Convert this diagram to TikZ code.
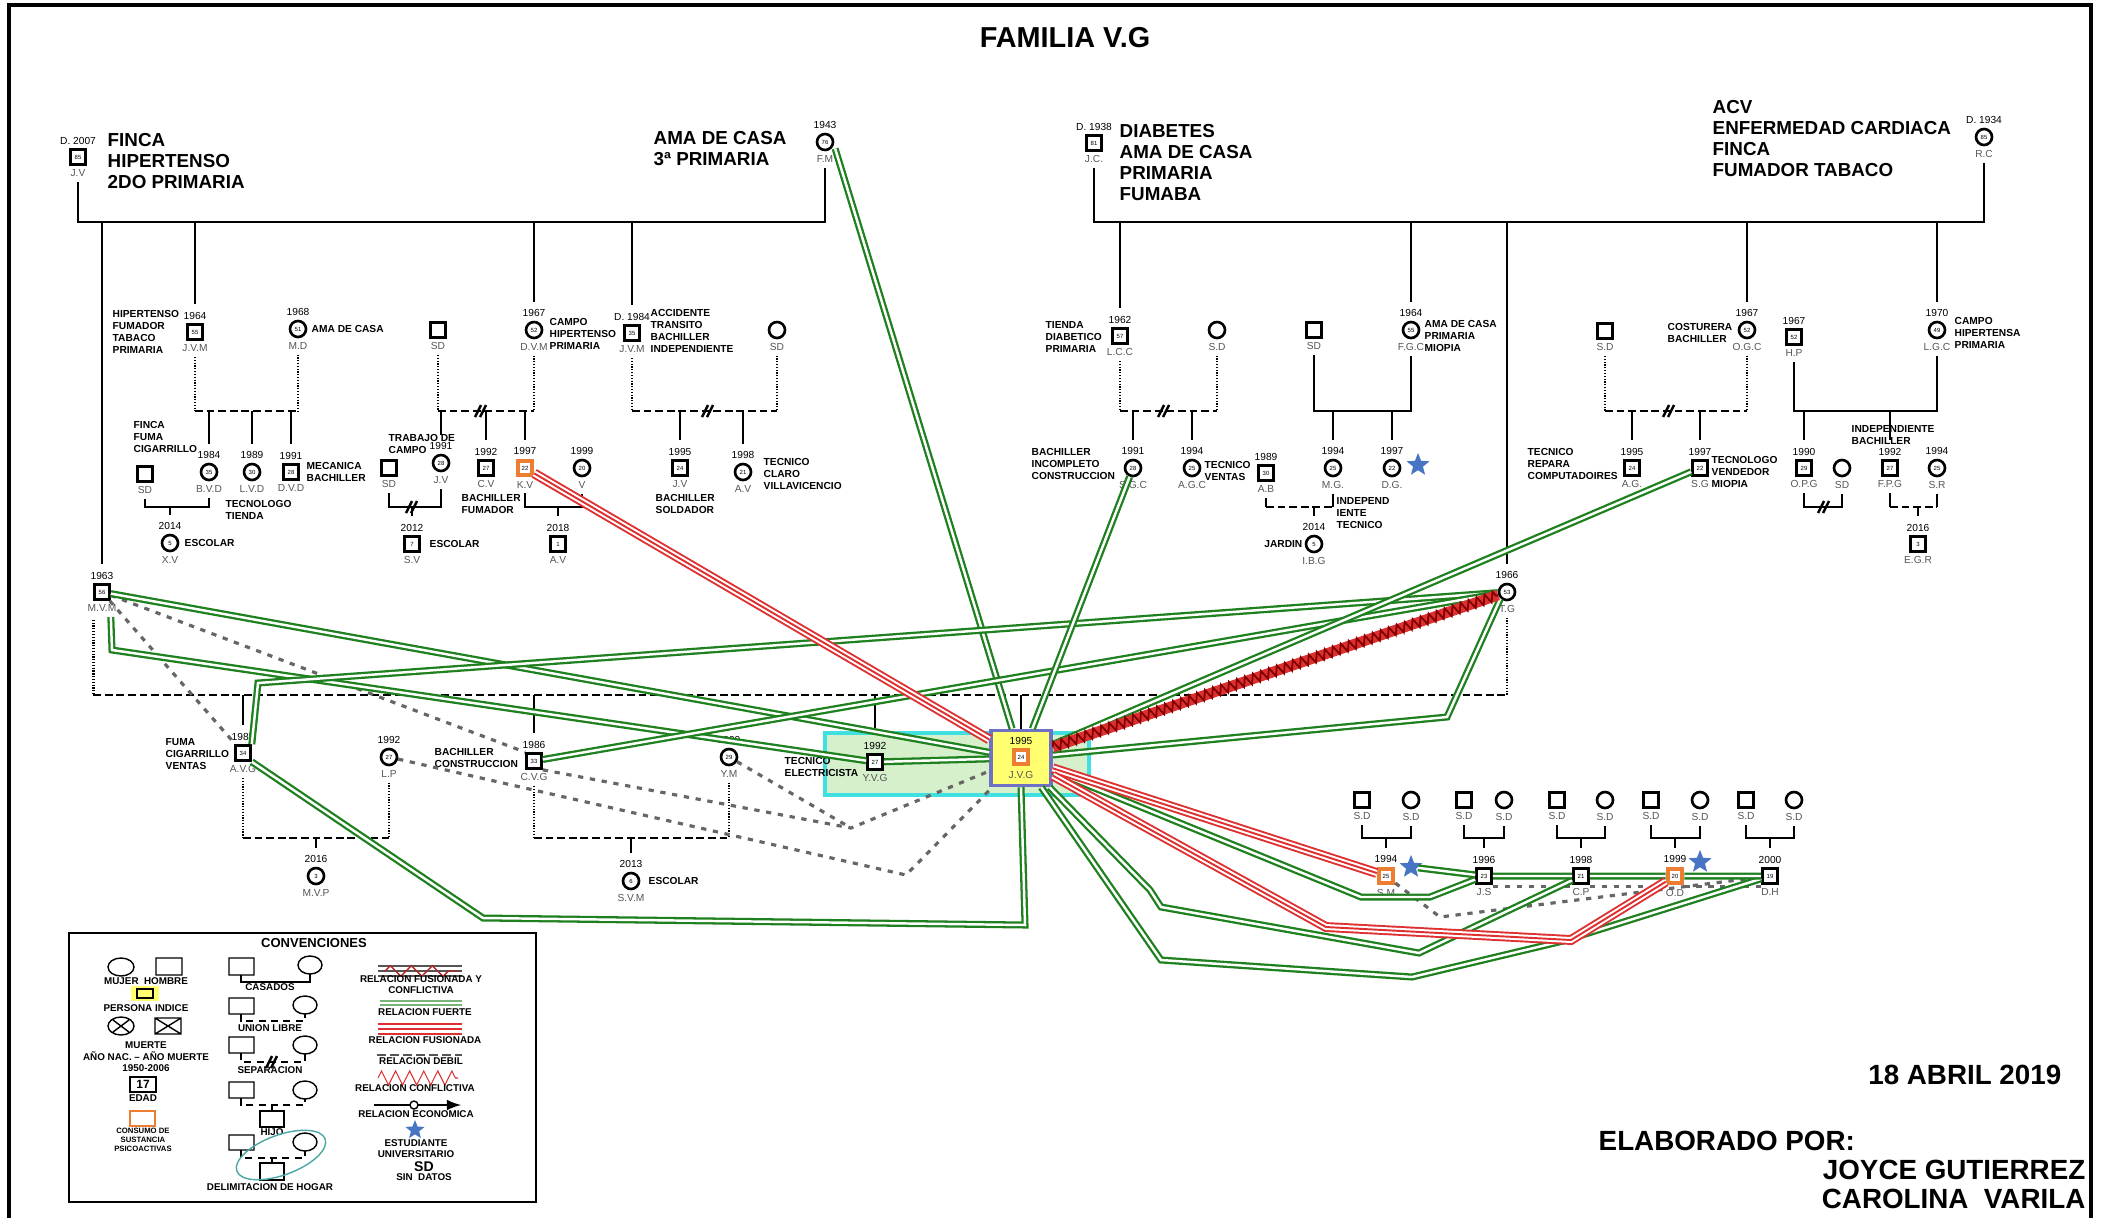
\documentclass[tikz,border=0pt]{standalone}
\usepackage{fontspec}
\setmainfont{Liberation Sans}
\usetikzlibrary{calc,shapes.geometric,decorations.pathmorphing,arrows}

\definecolor{StrongGreen}{RGB}{30,128,30}
\definecolor{FusedRed}{RGB}{222,48,48}
\definecolor{UseOrange}{RGB}{237,125,49}
\definecolor{IndexYellow}{RGB}{255,255,112}
\definecolor{IndexBlue}{RGB}{112,112,196}
\definecolor{HomeCyan}{RGB}{64,224,224}
\definecolor{HomeGreen}{RGB}{214,240,204}
\definecolor{StarBlue}{RGB}{72,116,196}
\definecolor{NameGray}{RGB}{85,85,85}

\begin{document}
\begin{tikzpicture}[x=0.01cm,y=-0.01cm,label distance=0.6pt]
            \tikzset{ManVertex/.style={draw,line width=0.75pt,fill=white,minimum size=0.15cm,inner sep=0pt,font=\fontsize{1.7}{2}\selectfont}};
            \tikzset{WomanVertex/.style={ManVertex,circle,minimum size=0.16cm}};
            \tikzset{UseVertex/.style={ManVertex,draw=UseOrange,line width=1.3pt,minimum size=0.14cm}};
            \tikzset{Year/.style={font=\fontsize{2.9}{3}\selectfont,inner sep=0.3pt}};
            \tikzset{Name/.style={Year,text=NameGray}};
            \tikzset{NoteText/.style={font=\bfseries\fontsize{2.9}{3.4}\selectfont,align=left,inner sep=0pt}};
            \tikzset{BigNote/.style={font=\bfseries\fontsize{5.35}{5.95}\selectfont,align=left,inner sep=0pt}};
            \tikzset{FamilyLine/.style={line width=0.8pt}};
            \tikzset{FreeUnion/.style={line width=0.8pt,dash pattern=on 2.2pt off 1.1pt}};
            \tikzset{DotLine/.style={line width=0.8pt,dash pattern=on 0.35pt off 0.45pt}};
            \tikzset{StrongEdge/.style={draw=StrongGreen,line width=2pt,postaction={draw=white,line width=0.7pt}}};
            \tikzset{FusedEdge/.style={draw=FusedRed,line width=2.8pt,postaction={draw=white,line width=1.7pt},postaction={draw=FusedRed,line width=0.55pt}}};
            \tikzset{ConflictEdge/.style={draw=FusedRed,line width=3pt,postaction={draw=red!50!black,line width=0.5pt,decorate,decoration={zigzag,segment length=2.4pt,amplitude=1.4pt}}}};
            \tikzset{WeakEdge/.style={draw=gray!80!black,line width=0.9pt,dash pattern=on 1.5pt off 1.9pt}};
            \tikzset{SepMark/.pic={\draw[line width=0.7pt] (-6,6) -- (0,-6) (-1,6) -- (5,-6);}};
            \tikzset{LegendText/.style={font=\bfseries\fontsize{2.8}{3.1}\selectfont,align=center,inner sep=0pt}};
            \tikzset{StarMark/.style={star,star points=5,star point ratio=2.3,fill=StarBlue,inner sep=0pt,minimum size=0.24cm}};
            \tikzset{BigText/.style={font=\bfseries\fontsize{7.9}{9}\selectfont,inner sep=0pt}};

            \useasboundingbox (0,0) rectangle (2113,1218);
            \draw[line width=1.2pt] (9,1218) -- (9,5) -- (2091,5) -- (2091,1218);
            \draw[draw=HomeCyan,fill=HomeGreen,line width=0.9pt] (825,733) rectangle (1089,795);

            \node[font=\bfseries\fontsize{8.2}{9}\selectfont] (title) at (1065,38) {FAMILIA V.G};

            \node[ManVertex,label={[Year]above:D. 2007},label={[Name]below:J.V}] (jv) at (78,157) {85};
            \node[WomanVertex,label={[Year]above:1943},label={[Name]below:F.M}] (fm) at (825,142) {76};
            \node[ManVertex,label={[Year]above:D. 1938},label={[Name]below:J.C.}] (jc) at (1094,143) {81};
            \node[WomanVertex,label={[Year]above:D. 1934},label={[Name]below:R.C}] (rc) at (1984,137) {85};
            \node[BigNote,anchor=north west] (nJV) at (107,133) {FINCA\\HIPERTENSO\\2DO PRIMARIA};
            \node[BigNote,anchor=north west] (nFM) at (653,131) {AMA DE CASA\\3ª PRIMARIA};
            \node[BigNote,anchor=north west] (nJC) at (1119,124) {DIABETES\\AMA DE CASA\\PRIMARIA\\FUMABA};
            \node[BigNote,anchor=north west] (nRC) at (1712,100) {ACV\\ENFERMEDAD CARDIACA\\FINCA\\FUMADOR TABACO};

            \node[ManVertex,label={[Year]above:1964},label={[Name]below:J.V.M}] (jvm) at (195,332) {55};
            \node[WomanVertex,label={[Year]above:1968},label={[Name]below:M.D}] (md) at (298,329) {51};
            \node[ManVertex,label={[Name]below:SD}] (sdA) at (438,330) {};
            \node[WomanVertex,label={[Year]above:1967},label={[Name]below:D.V.M}] (dvm) at (534,330) {52};
            \node[ManVertex,label={[Year]above:D. 1984},label={[Name]below:J.V.M}] (jvmd) at (632,333) {35};
            \node[WomanVertex,label={[Name]below:SD}] (sdB) at (777,330) {};
            \node[ManVertex,label={[Year]above:1962},label={[Name]below:L.C.C}] (lcc) at (1120,336) {57};
            \node[WomanVertex,label={[Name]below:S.D}] (sdC) at (1217,330) {};
            \node[ManVertex,label={[Name]below:SD}] (sdD) at (1314,330) {};
            \node[WomanVertex,label={[Year]above:1964},label={[Name]below:F.G.C}] (fgc) at (1411,330) {55};
            \node[ManVertex,label={[Name]below:S.D}] (sdE) at (1605,331) {};
            \node[WomanVertex,label={[Year]above:1967},label={[Name]below:O.G.C}] (ogc) at (1747,330) {52};
            \node[ManVertex,label={[Year]above:1967},label={[Name]below:H.P}] (hp) at (1794,337) {52};
            \node[WomanVertex,label={[Year]above:1970},label={[Name]below:L.G.C}] (lgc) at (1937,330) {49};
            \node[NoteText,anchor=north west] (nJVM) at (112,310) {HIPERTENSO\\FUMADOR\\TABACO\\PRIMARIA};
            \node[NoteText,anchor=west] (nMD) at (311,329) {AMA DE CASA};
            \node[NoteText,anchor=north west] (nDVM) at (549,318) {CAMPO\\HIPERTENSO\\PRIMARIA};
            \node[NoteText,anchor=north west] (nJVMD) at (650,309) {ACCIDENTE\\TRANSITO\\BACHILLER\\INDEPENDIENTE};
            \node[NoteText,anchor=north west] (nLCC) at (1045,321) {TIENDA\\DIABETICO\\PRIMARIA};
            \node[NoteText,anchor=north west] (nFGC) at (1424,320) {AMA DE CASA\\PRIMARIA\\MIOPIA};
            \node[NoteText,anchor=north west] (nOGC) at (1667,323) {COSTURERA\\BACHILLER};
            \node[NoteText,anchor=north west] (nLGC) at (1954,317) {CAMPO\\HIPERTENSA\\PRIMARIA};

            \node[ManVertex,label={[Name]below:SD}] (sdF) at (145,474) {};
            \node[WomanVertex,label={[Year]above:1984},label={[Name]below:B.V.D}] (bvd) at (209,472) {35};
            \node[WomanVertex,label={[Year]above:1989},label={[Name]below:L.V.D}] (lvd) at (252,472) {30};
            \node[ManVertex,label={[Year]above:1991},label={[Name]below:D.V.D}] (dvd) at (291,472) {28};
            \node[ManVertex,label={[Name]below:SD}] (sdG) at (389,468) {};
            \node[WomanVertex,label={[Year]above:1991},label={[Name]below:J.V}] (jvb) at (441,463) {28};
            \node[ManVertex,label={[Year]above:1992},label={[Name]below:C.V}] (cv) at (486,468) {27};
            \node[UseVertex,label={[Year]above:1997},label={[Name]below:K.V}] (kv) at (525,468) {22};
            \node[WomanVertex,label={[Year]above:1999},label={[Name]below:V}] (vv) at (582,468) {20};
            \node[ManVertex,label={[Year]above:1995},label={[Name]below:J.V}] (jvc) at (680,468) {24};
            \node[WomanVertex,label={[Year]above:1998},label={[Name]below:A.V}] (ava) at (743,472) {21};
            \node[WomanVertex,label={[Year]above:1991},label={[Name]below:S.G.C}] (sgc) at (1133,468) {28};
            \node[WomanVertex,label={[Year]above:1994},label={[Name]below:A.G.C}] (agc) at (1192,468) {25};
            \node[ManVertex,label={[Year]above:1989},label={[Name]below:A.B}] (ab) at (1266,473) {30};
            \node[WomanVertex,label={[Year]above:1994},label={[Name]below:M.G.}] (mg) at (1333,468) {25};
            \node[WomanVertex,label={[Year]above:1997},label={[Name]below:D.G.}] (dg) at (1392,468) {22};
            \node[ManVertex,label={[Year]above:1995},label={[Name]below:A.G.}] (ag) at (1632,468) {24};
            \node[ManVertex,label={[Year]above:1997},label={[Name]below:S.G}] (sg) at (1700,468) {22};
            \node[ManVertex,label={[Year]above:1990},label={[Name]below:O.P.G}] (opg) at (1804,468) {29};
            \node[WomanVertex,label={[Name]below:SD}] (sdH) at (1842,468) {};
            \node[ManVertex,label={[Year]above:1992},label={[Name]below:F.P.G}] (fpg) at (1890,468) {27};
            \node[WomanVertex,label={[Year]above:1994},label={[Name]below:S.R}] (sr) at (1937,468) {25};
            \node[StarMark] (dgstar) at (1418,465) {};
            \node[NoteText,anchor=north west] (nBVD) at (133,421) {FINCA\\FUMA\\CIGARRILLO};
            \node[NoteText,anchor=north west] (nLVD) at (225,500) {TECNOLOGO\\TIENDA};
            \node[NoteText,anchor=north west] (nDVD) at (306,462) {MECANICA\\BACHILLER};
            \node[NoteText,anchor=north west] (nJVB) at (388,434) {TRABAJO DE\\CAMPO};
            \node[NoteText,anchor=north west] (nCV) at (461,494) {BACHILLER\\FUMADOR};
            \node[NoteText,anchor=north west] (nJVC) at (655,494) {BACHILLER\\SOLDADOR};
            \node[NoteText,anchor=north west] (nAVA) at (763,458) {TECNICO\\CLARO\\VILLAVICENCIO};
            \node[NoteText,anchor=north west] (nSGC) at (1031,448) {BACHILLER\\INCOMPLETO\\CONSTRUCCION};
            \node[NoteText,anchor=north west] (nAGC) at (1204,461) {TECNICO\\VENTAS};
            \node[NoteText,anchor=north west] (nMG) at (1336,497) {INDEPEND\\IENTE\\TECNICO};
            \node[NoteText,anchor=north west] (nAG) at (1527,448) {TECNICO\\REPARA\\COMPUTADOIRES};
            \node[NoteText,anchor=north west] (nSG) at (1711,456) {TECNOLOGO\\VENDEDOR\\MIOPIA};
            \node[NoteText,anchor=north west] (nFPG) at (1851,425) {INDEPENDIENTE\\BACHILLER};

            \node[WomanVertex,label={[Year]above:2014},label={[Name]below:X.V}] (xv) at (170,543) {5};
            \node[ManVertex,label={[Year]above:2012},label={[Name]below:S.V}] (sv) at (412,544) {7};
            \node[ManVertex,label={[Year]above:2018},label={[Name]below:A.V}] (avb) at (558,544) {1};
            \node[WomanVertex,label={[Year]above:2014},label={[Name]below:I.B.G}] (ibg) at (1314,544) {5};
            \node[ManVertex,label={[Year]above:2016},label={[Name]below:E.G.R}] (egr) at (1918,544) {3};
            \node[NoteText,anchor=west] (nXV) at (184,543) {ESCOLAR};
            \node[NoteText,anchor=west] (nSV) at (429,544) {ESCOLAR};
            \node[NoteText,anchor=east] (nIBG) at (1303,544) {JARDIN};

            \node[ManVertex,label={[Year]above:1963},label={[Name]below:M.V.M}] (mvm) at (102,592) {56};
            \node[WomanVertex,label={[Year]above:1966},label={[Name]below:T.G}] (tg) at (1507,592) {53};
            \node[ManVertex,label={[Year]above:1985},label={[Name]below:A.V.G}] (avg) at (243,753) {34};
            \node[WomanVertex,label={[Year]above:1992},label={[Name]below:L.P}] (lp) at (389,757) {27};
            \node[ManVertex,label={[Year]above:1986},label={[Name]below:C.V.G}] (cvg) at (534,761) {33};
            \node[WomanVertex,label={[Year]above:1990},label={[Name]below:Y.M}] (ym) at (729,757) {29};
            \node[ManVertex,label={[Year]above:1992},label={[Name]below:Y.V.G}] (yvg) at (875,762) {27};
            \node[draw=IndexBlue,fill=IndexYellow,line width=1pt,minimum width=0.6cm,minimum height=0.55cm,inner sep=0pt] (jvg) at (1021,758) {};
            \node[UseVertex] (jvgage) at (1021,757) {24};
            \node[Year] (jvgyear) at (1021,741) {1995};
            \node[Name] (jvgname) at (1021,775) {J.V.G};
            \node[WomanVertex,label={[Year]above:2016},label={[Name]below:M.V.P}] (mvp) at (316,876) {3};
            \node[WomanVertex,label={[Year]above:2013},label={[Name]below:S.V.M}] (svm) at (631,881) {6};
            \node[NoteText,anchor=north west] (nAVG) at (165,738) {FUMA\\CIGARRILLO\\VENTAS};
            \node[NoteText,anchor=north west] (nCVG) at (434,748) {BACHILLER\\CONSTRUCCION};
            \node[NoteText,anchor=north west] (nYVG) at (784,757) {TECNICO\\ELECTRICISTA};
            \node[NoteText,anchor=west] (nSVM) at (648,881) {ESCOLAR};

            \node[ManVertex,label={[Name]below:S.D}] (sdP1) at (1362,800) {};
            \node[WomanVertex,label={[Name]below:S.D}] (sdQ1) at (1411,800) {};
            \node[ManVertex,label={[Name]below:S.D}] (sdP2) at (1464,800) {};
            \node[WomanVertex,label={[Name]below:S.D}] (sdQ2) at (1504,800) {};
            \node[ManVertex,label={[Name]below:S.D}] (sdP3) at (1557,800) {};
            \node[WomanVertex,label={[Name]below:S.D}] (sdQ3) at (1605,800) {};
            \node[ManVertex,label={[Name]below:S.D}] (sdP4) at (1651,800) {};
            \node[WomanVertex,label={[Name]below:S.D}] (sdQ4) at (1700,800) {};
            \node[ManVertex,label={[Name]below:S.D}] (sdP5) at (1746,800) {};
            \node[WomanVertex,label={[Name]below:S.D}] (sdQ5) at (1794,800) {};
            \node[UseVertex,label={[Year]above:1994},label={[Name]below:S.M}] (sm) at (1386,876) {25};
            \node[ManVertex,label={[Year]above:1996},label={[Name]below:J.S}] (js) at (1484,876) {23};
            \node[ManVertex,label={[Year]above:1998},label={[Name]below:C.P}] (cp) at (1581,876) {21};
            \node[UseVertex,label={[Year]above:1999},label={[Name]below:O.D}] (od) at (1675,876) {20};
            \node[ManVertex,label={[Year]above:2000},label={[Name]below:D.H}] (dh) at (1770,876) {19};
            \node[StarMark] (smstar) at (1411,867) {};
            \node[StarMark] (odstar) at (1700,862) {};

            \coordinate (barP) at (0,222);
            \coordinate (rowA) at (0,411);
            \coordinate (rowB) at (0,507);
            \coordinate (rowC) at (0,695);
            \coordinate (rowD) at (0,838);

            \draw[FamilyLine] ([yshift=-4.6pt]jv.south) -- (jv |- barP) -| ([yshift=-4.6pt]fm.south);
            \draw[FamilyLine] ([yshift=-4.6pt]jc.south) -- (jc |- barP) -| ([yshift=-4.6pt]rc.south);
            \draw[FamilyLine] (mvm |- barP) -- ([yshift=5.4pt]mvm.north) (jvm |- barP) -- ([yshift=5.4pt]jvm.north) (dvm |- barP) -- ([yshift=5.4pt]dvm.north) (jvmd |- barP) -- ([yshift=5.4pt]jvmd.north);
            \draw[FamilyLine] (lcc |- barP) -- ([yshift=5.4pt]lcc.north) (fgc |- barP) -- ([yshift=5.4pt]fgc.north) (tg |- barP) -- ([yshift=5.4pt]tg.north) (ogc |- barP) -- ([yshift=5.4pt]ogc.north) (lgc |- barP) -- ([yshift=5.4pt]lgc.north);

            \draw[DotLine] ([yshift=-4.6pt]jvm.south) -- (jvm |- rowA) ([yshift=-4.6pt]md.south) -- (md |- rowA);
            \draw[FreeUnion] (jvm |- rowA) -- (md |- rowA);
            \draw[FamilyLine] (bvd |- rowA) -- ([yshift=5.4pt]bvd.north) (lvd |- rowA) -- ([yshift=5.4pt]lvd.north) (dvd |- rowA) -- ([yshift=5.4pt]dvd.north);
            \draw[DotLine] ([yshift=-4.6pt]sdA.south) -- (sdA |- rowA) ([yshift=-4.6pt]dvm.south) -- (dvm |- rowA);
            \draw[FreeUnion] (sdA |- rowA) -- (dvm |- rowA);
            \pic at (481,411) {SepMark};
            \draw[FamilyLine] (jvb |- rowA) -- ([yshift=5.4pt]jvb.north) (cv |- rowA) -- ([yshift=5.4pt]cv.north) (kv |- rowA) -- ([yshift=5.4pt]kv.north);
            \draw[DotLine] ([yshift=-4.6pt]jvmd.south) -- (jvmd |- rowA) ([yshift=-4.6pt]sdB.south) -- (sdB |- rowA);
            \draw[FreeUnion] (jvmd |- rowA) -- (sdB |- rowA);
            \pic at (708,411) {SepMark};
            \draw[FamilyLine] (jvc |- rowA) -- ([yshift=5.4pt]jvc.north) (ava |- rowA) -- ([yshift=5.4pt]ava.north);
            \draw[FamilyLine] ([yshift=-4.6pt]sdF.south) -- (sdF |- rowB) -- (bvd |- rowB) -- ([yshift=-4.6pt]bvd.south) (xv |- rowB) -- ([yshift=5.4pt]xv.north);
            \draw[FamilyLine] ([yshift=-4.6pt]sdG.south) -- (sdG |- rowB) -- (jvb |- rowB) -- ([yshift=-4.6pt]jvb.south) (sv |- rowB) -- ([yshift=5.4pt]sv.north);
            \pic at (412,507) {SepMark};
            \draw[FamilyLine] ([yshift=-4.6pt]kv.south) -- (kv |- rowB) -- (vv |- rowB) -- ([yshift=-4.6pt]vv.south) (avb |- rowB) -- ([yshift=5.4pt]avb.north);

            \draw[DotLine] ([yshift=-4.6pt]lcc.south) -- (lcc |- rowA) ([yshift=-4.6pt]sdC.south) -- (sdC |- rowA);
            \draw[FreeUnion] (lcc |- rowA) -- (sdC |- rowA);
            \pic at (1164,411) {SepMark};
            \draw[FamilyLine] (sgc |- rowA) -- ([yshift=5.4pt]sgc.north) (agc |- rowA) -- ([yshift=5.4pt]agc.north);
            \draw[FamilyLine] ([yshift=-4.6pt]sdD.south) -- (sdD |- rowA) -- (fgc |- rowA) -- ([yshift=-4.6pt]fgc.south) (mg |- rowA) -- ([yshift=5.4pt]mg.north) (dg |- rowA) -- ([yshift=5.4pt]dg.north);
            \draw[FamilyLine] ([yshift=-4.6pt]ab.south) -- (ab |- rowB) ([yshift=-4.6pt]mg.south) -- (mg |- rowB) (ibg |- rowB) -- ([yshift=5.4pt]ibg.north);
            \draw[FreeUnion] (ab |- rowB) -- (mg |- rowB);
            \draw[DotLine] ([yshift=-4.6pt]sdE.south) -- (sdE |- rowA) ([yshift=-4.6pt]ogc.south) -- (ogc |- rowA);
            \draw[FreeUnion] (sdE |- rowA) -- (ogc |- rowA);
            \pic at (1669,411) {SepMark};
            \draw[FamilyLine] (ag |- rowA) -- ([yshift=5.4pt]ag.north) (sg |- rowA) -- ([yshift=5.4pt]sg.north);
            \draw[FamilyLine] ([yshift=-4.6pt]hp.south) -- (hp |- rowA) -- (lgc |- rowA) -- ([yshift=-4.6pt]lgc.south) (opg |- rowA) -- ([yshift=5.4pt]opg.north) (fpg |- rowA) -- ([yshift=5.4pt]fpg.north);
            \draw[FamilyLine] ([yshift=-4.6pt]opg.south) -- (opg |- rowB) -- (sdH |- rowB) -- ([yshift=-4.6pt]sdH.south);
            \pic at (1824,507) {SepMark};
            \draw[FamilyLine] ([yshift=-4.6pt]fpg.south) -- (fpg |- rowB) ([yshift=-4.6pt]sr.south) -- (sr |- rowB) (egr |- rowB) -- ([yshift=5.4pt]egr.north);
            \draw[FreeUnion] (fpg |- rowB) -- (sr |- rowB);

            \draw[DotLine] ([yshift=-5.4pt]mvm.south west) -- (mvm.west |- rowC) ([yshift=-4.6pt]tg.south) -- (tg |- rowC);
            \draw[FreeUnion] (mvm.west |- rowC) -- (tg |- rowC);
            \draw[FamilyLine] (avg |- rowC) -- ([yshift=5.4pt]avg.north) (cvg |- rowC) -- ([yshift=5.4pt]cvg.north) (yvg |- rowC) -- ([yshift=5.4pt]yvg.north) (jvg |- rowC) -- (jvg.north);
            \draw[DotLine] ([yshift=-4.6pt]avg.south) -- (avg |- rowD) ([yshift=-4.6pt]lp.south) -- (lp |- rowD);
            \draw[FreeUnion] (avg |- rowD) -- (lp |- rowD);
            \draw[FamilyLine] (mvp |- rowD) -- ([yshift=5.4pt]mvp.north);
            \draw[DotLine] ([yshift=-4.6pt]cvg.south) -- (cvg |- rowD) ([yshift=-4.6pt]ym.south) -- (ym |- rowD);
            \draw[FreeUnion] (cvg |- rowD) -- (ym |- rowD);
            \draw[FamilyLine] (svm |- rowD) -- ([yshift=5.4pt]svm.north);

            \draw[FamilyLine] ([yshift=-4.6pt]sdP1.south) -- (sdP1 |- rowD) -- (sdQ1 |- rowD) -- ([yshift=-4.6pt]sdQ1.south) (sm |- rowD) -- ([yshift=5.4pt]sm.north);
            \draw[FamilyLine] ([yshift=-4.6pt]sdP2.south) -- (sdP2 |- rowD) -- (sdQ2 |- rowD) -- ([yshift=-4.6pt]sdQ2.south) (js |- rowD) -- ([yshift=5.4pt]js.north);
            \draw[FamilyLine] ([yshift=-4.6pt]sdP3.south) -- (sdP3 |- rowD) -- (sdQ3 |- rowD) -- ([yshift=-4.6pt]sdQ3.south) (cp |- rowD) -- ([yshift=5.4pt]cp.north);
            \draw[FamilyLine] ([yshift=-4.6pt]sdP4.south) -- (sdP4 |- rowD) -- (sdQ4 |- rowD) -- ([yshift=-4.6pt]sdQ4.south) (od |- rowD) -- ([yshift=5.4pt]od.north);
            \draw[FamilyLine] ([yshift=-4.6pt]sdP5.south) -- (sdP5 |- rowD) -- (sdQ5 |- rowD) -- ([yshift=-4.6pt]sdQ5.south) (dh |- rowD) -- ([yshift=5.4pt]dh.north);

            \coordinate (bMV) at (112,650);
            \coordinate (bAV) at (258,683);
            \coordinate (bTG) at (1447,717);
            \coordinate (bAV1) at (483,918);
            \coordinate (bAV2) at (1025,925);
            \coordinate (bJS1) at (1361,897);
            \coordinate (bJS2) at (1430,897);
            \coordinate (bCP1) at (1150,890);
            \coordinate (bCP2) at (1161,907);
            \coordinate (bCP3) at (1419,953);
            \coordinate (bDH1) at (1161,960);
            \coordinate (bDH2) at (1412,977);
            \coordinate (bDH3) at (1563,941);
            \coordinate (bOD1) at (1326,927);
            \coordinate (bOD2) at (1571,940);
            \coordinate (bW1) at (851,828);
            \coordinate (bW2) at (906,875);
            \coordinate (bSM) at (1440,917);

            \draw[WeakEdge] (mvm) -- (avg);
            \draw[WeakEdge] (mvm) -- (cvg.north west);
            \draw[WeakEdge] (cvg.south east) -- (bW1) -- (jvg);
            \draw[WeakEdge] (ym) -- (bW1);
            \draw[WeakEdge] (lp) -- (bW2) -- (jvg);
            \draw[WeakEdge] (sm) -- (bSM) -- (dh);
            \draw[WeakEdge] ([yshift=-3pt]js.east) -- ([yshift=-3pt]cp.west) ([yshift=-3pt]cp.east) -- ([yshift=-3pt]od.west) ([yshift=-3pt]od.east) -- ([yshift=-3pt]dh.west);

            \draw[StrongEdge] ([xshift=1pt]fm.south east) -- (jvg);
            \draw[StrongEdge] (mvm) -- (jvg);
            \draw[StrongEdge] ([yshift=-4.6pt]mvm.south east) -- (bMV) -- (yvg);
            \draw[StrongEdge] (avg.north east) -- (bAV) -- (tg);
            \draw[StrongEdge] (cvg) -- (tg);
            \draw[StrongEdge] (tg.south west) -- (bTG) -- (jvg);
            \draw[StrongEdge] (jvg) -- (sgc);
            \draw[StrongEdge] (jvg) -- (sg);
            \draw[StrongEdge] (yvg) -- (jvg);
            \draw[StrongEdge] (avg.south east) -- (bAV1) -- (bAV2) -- (jvg.south);
            \draw[StrongEdge] (jvg) -- (bJS1) -- (bJS2) -- (js);
            \draw[StrongEdge] (jvg) -- (bCP1) -- (bCP2) -- (bCP3) -- (cp);
            \draw[StrongEdge] (jvg) -- (bDH1) -- (bDH2) -- (bDH3) -- (dh);
            \draw[StrongEdge] (smstar) -- (js) -- (cp) -- (od) -- (dh);
            \draw[FusedEdge] (kv) -- (jvg);
            \draw[FusedEdge] (jvg) -- (sm);
            \draw[FusedEdge] (jvg) -- (bOD1) -- (bOD2) -- (od);
            \draw[ConflictEdge] (jvg) -- (tg);

            \draw[line width=0.4pt] (69,933) rectangle (536,1202);
            \node[LegendText,font=\bfseries\fontsize{3.7}{4}\selectfont] (leg) at (314,943) {CONVENCIONES};
            \draw[line width=0.4pt] (121,967) ellipse (13 and 9) (156,958) rectangle (182,975);
            \node[LegendText] (legMH) at (146,981) {MUJER\ \ HOMBRE};
            \draw[fill=IndexYellow,draw=none] (131,986) rectangle (159,1001);
            \draw[line width=0.6pt] (137,989) rectangle (153,998);
            \node[LegendText] (legPI) at (146,1008) {PERSONA INDICE};
            \draw[line width=0.4pt] (121,1026) ellipse (13 and 9) (113,1020) -- (129,1032) (113,1032) -- (129,1020);
            \draw[line width=0.4pt] (155,1018) rectangle (181,1034) (155,1018) -- (181,1034) (155,1034) -- (181,1018);
            \node[LegendText] (legMu) at (146,1045) {MUERTE};
            \node[LegendText] (legAN) at (146,1062) {AÑO NAC. – AÑO MUERTE\\1950-2006};
            \draw[line width=0.5pt] (130,1077) rectangle (156,1092);
            \node[LegendText,font=\bfseries\fontsize{3.4}{3.4}\selectfont] (leg17) at (143,1084.5) {17};
            \node[LegendText] (legED) at (143,1098) {EDAD};
            \draw[draw=UseOrange,line width=0.5pt] (130,1111) rectangle (155,1126);
            \node[LegendText,font=\bfseries\fontsize{2.2}{2.6}\selectfont] (legCS) at (143,1140) {CONSUMO DE\\SUSTANCIA\\PSICOACTIVAS};

            \draw[line width=0.4pt] (229,958) rectangle (254,975) (310,965) ellipse (12 and 9);
            \draw[line width=0.5pt] (241,975) -- (241,982) -- (310,982) -- (310,974);
            \node[LegendText] (legCa) at (270,987) {CASADOS};
            \draw[line width=0.4pt] (229,998) rectangle (254,1014) (305,1005) ellipse (12 and 9);
            \draw[line width=0.5pt,dash pattern=on 2pt off 1.5pt] (241,1014) -- (241,1021) -- (305,1021) -- (305,1014);
            \node[LegendText] (legUL) at (270,1028) {UNION LIBRE};
            \draw[line width=0.4pt] (229,1037) rectangle (254,1053) (305,1045) ellipse (12 and 9);
            \draw[line width=0.5pt,dash pattern=on 2pt off 1.5pt] (241,1053) -- (241,1062) -- (305,1062) -- (305,1054);
            \pic at (272,1062) {SepMark};
            \node[LegendText] (legSe) at (270,1070) {SEPARACION};
            \draw[line width=0.4pt] (229,1082) rectangle (254,1098) (305,1090) ellipse (12 and 9);
            \draw[line width=0.5pt,dash pattern=on 2pt off 1.5pt] (241,1098) -- (241,1105) -- (305,1105) -- (305,1099);
            \draw[line width=0.4pt] (272,1105) -- (272,1111) (260,1111) rectangle (284,1127);
            \node[LegendText] (legHi) at (272,1132) {HIJO};
            \draw[line width=0.4pt] (229,1135) rectangle (254,1150) (305,1142) ellipse (12 and 9);
            \draw[line width=0.5pt,dash pattern=on 2pt off 1.5pt] (241,1150) -- (241,1158) -- (305,1158) -- (305,1151);
            \draw[line width=0.4pt] (272,1158) -- (272,1163) (260,1163) rectangle (284,1180);
            \draw[draw=teal!70,line width=0.4pt,rotate around={20:(281,1155)}] (281,1155) ellipse (47 and 20);
            \node[LegendText] (legDH) at (270,1187) {DELIMITACION DE HOGAR};

            \draw[NameGray,line width=0.4pt] (378,966) -- (462,966) (378,971) -- (462,971) (378,976) -- (462,976);
            \draw[FusedRed!80!black,line width=0.4pt,decorate,decoration={zigzag,segment length=6pt,amplitude=1.5pt}] (385,971) -- (458,971);
            \node[LegendText] (legFC) at (421,985) {RELACION FUSIONADA Y\\CONFLICTIVA};
            \draw[StrongGreen!60,line width=0.5pt] (380,1001) -- (462,1001) (380,1005) -- (462,1005);
            \node[LegendText] (legFu) at (425,1012) {RELACION FUERTE};
            \draw[FusedRed,line width=0.4pt] (378,1024) -- (462,1024) (378,1029) -- (462,1029) (378,1034) -- (462,1034);
            \node[LegendText] (legFs) at (425,1040) {RELACION FUSIONADA};
            \draw[NameGray,line width=0.7pt,dash pattern=on 2.5pt off 1.2pt] (377,1055) -- (462,1055);
            \node[LegendText] (legDe) at (421,1061) {RELACION DEBIL};
            \draw[FusedRed,line width=0.3pt,decorate,decoration={zigzag,segment length=4pt,amplitude=2pt}] (378,1078) -- (458,1078);
            \node[LegendText] (legCo) at (415,1088) {RELACION CONFLICTIVA};
            \draw[line width=0.4pt,-latex] (374,1105) -- (461,1105);
            \draw[line width=0.4pt,fill=white] (414,1105) circle (4);
            \node[LegendText] (legEc) at (416,1114) {RELACION ECONOMICA};
            \node[StarMark,minimum size=0.2cm] (legSt) at (415,1130) {};
            \node[LegendText] (legEU) at (416,1148.5) {ESTUDIANTE\\UNIVERSITARIO};
            \node[LegendText,font=\bfseries\fontsize{4}{4}\selectfont] (legSD) at (424,1167) {SD};
            \node[LegendText] (legSi) at (424,1177) {SIN\ \ DATOS};

            \node[BigText,anchor=east] (fecha) at (2062,1075) {18 ABRIL 2019};
            \node[BigText,anchor=west] (elab) at (1598,1141) {ELABORADO POR:};
            \node[BigText,anchor=east] (autA) at (2086,1170) {JOYCE GUTIERREZ};
            \node[BigText,anchor=east] (autB) at (2086,1199) {CAROLINA\ \ VARILA};
\end{tikzpicture}
\end{document}
